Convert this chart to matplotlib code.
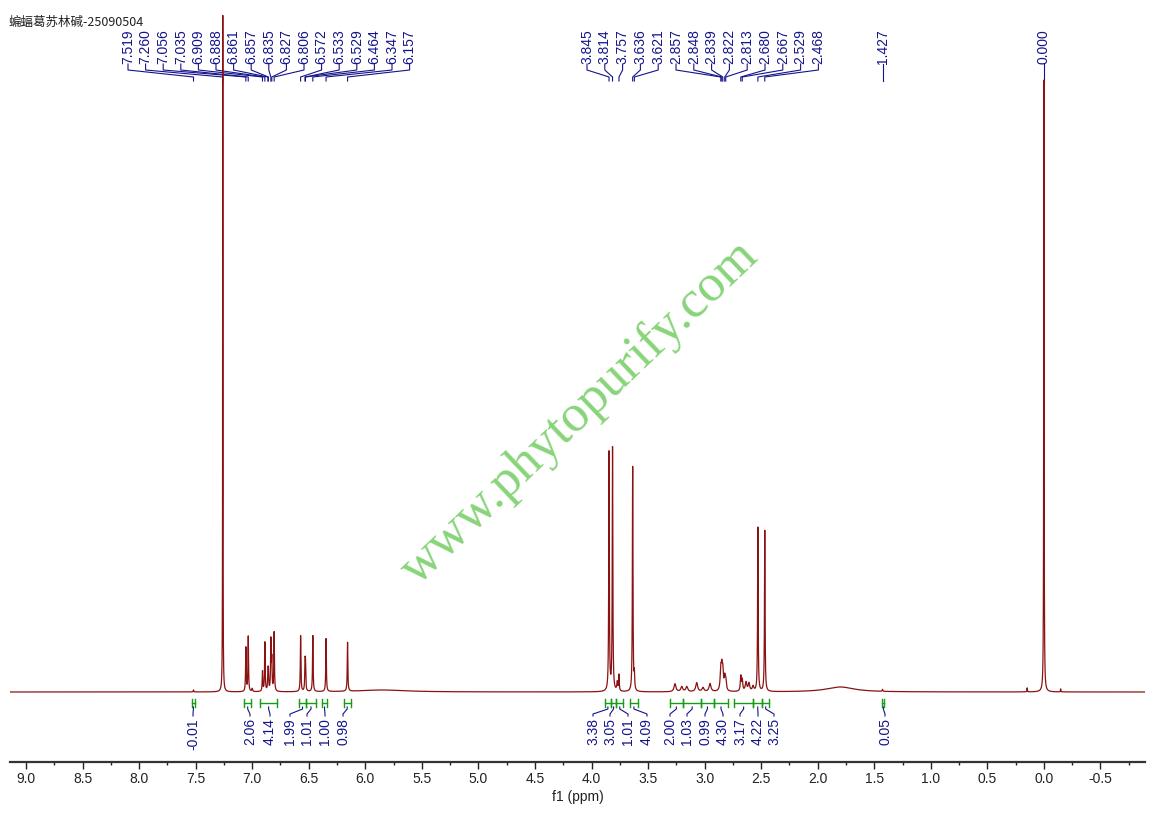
import matplotlib
matplotlib.use("Agg")
import matplotlib.pyplot as plt
import numpy as np

# labelled peaks (ppm) and heights above baseline (px)
peak_ppm = [7.519, 7.260, 7.056, 7.035, 6.909, 6.888, 6.861, 6.857, 6.835,
            6.827, 6.806, 6.572, 6.533, 6.529, 6.464, 6.347, 6.157,
            3.845, 3.814, 3.757, 3.636, 3.621, 2.857, 2.848, 2.839, 2.822,
            2.813, 2.680, 2.667, 2.529, 2.468, 1.427, 0.000]
peak_height = [2, 677, 44, 55, 20, 49, 17, 17, 50,
               30, 59, 56, 25, 25, 56, 53, 49,
               239, 243, 16, 225, 15, 20, 20, 18, 12,
               10, 15, 11, 164, 161, 2, 612]
peak_hwhm = ([0.003, 0.0015] + [0.003] * 20 + [0.006] * 5 + [0.005] * 2
             + [0.003] * 3 + [0.002])

# unlabelled small multiplet lines and broad humps
bump_ppm = [3.772, 3.262, 3.202, 3.158, 3.070, 3.014, 2.952, 2.634, 2.608,
            2.572, 7.000, 0.148, -0.148, 1.80, 5.85]
bump_height = [9, 8, 5, 5, 9, 4, 8, 9, 8, 5, 3, 4, 3, 5, 2]
bump_hwhm = [0.005, 0.01, 0.01, 0.01, 0.01, 0.01, 0.01, 0.008, 0.008,
             0.008, 0.004, 0.002, 0.002, 0.15, 0.25]

labels_left = ["7.519", "7.260", "7.056", "7.035", "6.909", "6.888", "6.861",
               "6.857", "6.835", "6.827", "6.806", "6.572", "6.533", "6.529",
               "6.464", "6.347", "6.157"]
labels_mid = ["3.845", "3.814", "3.757", "3.636", "3.621", "2.857", "2.848",
              "2.839", "2.822", "2.813", "2.680", "2.667", "2.529", "2.468"]

# integrals: ranges (ppm) and values
int_from = [7.53, 7.07, 6.93, 6.59, 6.52, 6.38, 6.19, 3.88, 3.83, 3.78, 3.66,
            3.31, 3.19, 3.03, 2.92, 2.74, 2.57, 2.49, 1.43]
int_to = [7.51, 7.01, 6.78, 6.52, 6.44, 6.34, 6.13, 3.83, 3.78, 3.72, 3.59,
          3.19, 3.03, 2.92, 2.79, 2.57, 2.49, 2.43, 1.41]
int_value = ["-0.01", "2.06", "4.14", "1.99", "1.01", "1.00", "0.98", "3.38",
             "3.05", "1.01", "4.09", "2.00", "1.03", "0.99", "4.30", "3.17",
             "4.22", "3.25", "0.05"]
# where the integral values are written (px)
int_label_px = [193, 250, 270, 290, 307, 325, 343, 593, 610, 628, 647, 670,
                687, 705, 723, 740, 758, 774, 885]

tick_vals = [9.0, 8.5, 8.0, 7.5, 7.0, 6.5, 6.0, 5.5, 5.0, 4.5, 4.0, 3.5, 3.0,
             2.5, 2.0, 1.5, 1.0, 0.5, 0.0, -0.5]

RED = "#8b1212"
NAVY = "#14148a"
GREEN = "#169c16"
FONT = "Liberation Sans"


def px2ppm(px):
    return 9.0 - (px - 26) / 113.1


def py2y(py):
    return 762 - py


fig = plt.figure(figsize=(11.53, 8.13), dpi=100)
ax = fig.add_axes([10 / 1153, 51 / 813, 1135 / 1153, 762 / 813])
ax.set_xlim(px2ppm(10), px2ppm(1145))
ax.set_ylim(0, 762)

# spectrum
x = np.linspace(px2ppm(10), px2ppm(1145), 40000)
base = py2y(692)
y = np.full_like(x, base, dtype=float)
for p, h, w in zip(peak_ppm + bump_ppm, peak_height + bump_height,
                   peak_hwhm + bump_hwhm):
    y += h * w ** 2 / ((x - p) ** 2 + w ** 2)
ax.plot(x, y, color=RED, lw=0.9, zorder=3)

# peak labels with leader lines
groups = [(labels_left, 128, 17.6), (labels_mid, 587, 17.8),
          (["1.427"], 882, 0), (["0.000"], 1045, 0)]
for labs, start, step in groups:
    for i, lab in enumerate(labs):
        lx = px2ppm(start + i * step)
        if len(labs) == 1:
            lx = float(lab)
        pk = float(lab)
        ax.text(lx, py2y(64), lab, rotation=90, ha="center", va="bottom",
                fontsize=10, family=FONT, color=NAVY, zorder=2)
        ax.plot([lx, lx, pk, pk], [py2y(64), py2y(70), py2y(77), py2y(81)],
                color=NAVY, lw=0.8, zorder=2)

# integrals
for a, b, val, lpx in zip(int_from, int_to, int_value, int_label_px):
    yi = py2y(703)
    ax.plot([a, b], [yi, yi], color=GREEN, lw=1.0, zorder=2)
    ax.plot([a, a], [py2y(699), py2y(707)], color=GREEN, lw=1.0, zorder=2)
    ax.plot([b, b], [py2y(699), py2y(707)], color=GREEN, lw=1.0, zorder=2)
    c = (a + b) / 2
    lx = px2ppm(lpx)
    ax.plot([c, c, lx, lx], [py2y(707), py2y(709), py2y(714), py2y(716)],
            color=NAVY, lw=0.8, zorder=2)
    ax.text(lx, py2y(718), val, rotation=90, ha="center", va="top",
            fontsize=10, family=FONT, color=NAVY, zorder=2)

# axis
for s in ["left", "right", "top"]:
    ax.spines[s].set_visible(False)
ax.spines["bottom"].set_linewidth(1.6)
ax.spines["bottom"].set_color("#333333")
ax.set_yticks([])
ax.set_xticks(tick_vals)
ax.set_xticklabels([f"{v:.1f}" for v in tick_vals], family=FONT)
ax.set_xticks([v - 0.25 for v in tick_vals], minor=True)
ax.tick_params(axis="x", which="major", direction="out", length=5, width=1,
               labelsize=10, pad=2, colors="#222222")
ax.tick_params(axis="x", which="minor", direction="out", length=2.5, width=1,
               colors="#222222")
ax.set_xlabel("f1 (ppm)", fontsize=10, family=FONT, labelpad=3, color="#222222")
ax.patch.set_alpha(0)

# watermark and sample name
fig.text(589 / 1153, 1 - 422 / 813, "www.phytopurify.com", rotation=43.7,
         rotation_mode="anchor", ha="center", va="baseline", fontsize=38,
         family="Liberation Serif", color="#88d47a", zorder=0)
fig.text(8 / 1153, 1 - 22 / 813, "蝙蝠葛苏林碱-25090504", ha="left", va="center",
         fontsize=9, family=["Noto Sans CJK SC", "DejaVu Sans"], color="#222222")

plt.savefig("out.png", dpi=100)
